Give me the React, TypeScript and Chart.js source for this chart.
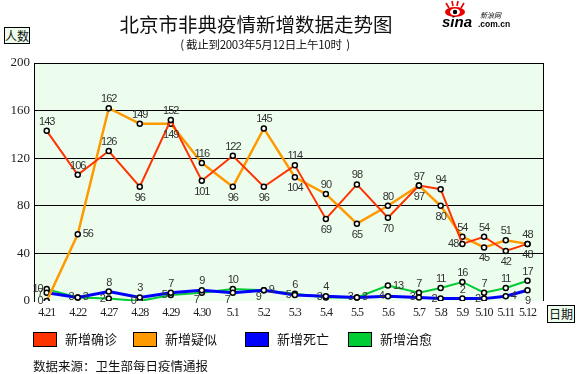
import React, { useEffect, useRef } from "react";
import { Chart, registerables } from "chart.js";

Chart.register(...registerables);

// ---- data ----
const dates = ["4.21", "4.22", "4.27", "4.28", "4.29", "4.30", "5.1", "5.2", "5.3", "5.4", "5.5", "5.6", "5.7", "5.8", "5.9", "5.10", "5.11", "5.12"];
const slots = [0, 1, 2, 3, 4, 5, 6, 7, 8, 9, 10, 11, 12, 12.7, 13.4, 14.1, 14.8, 15.5];
const confirmed = [143, 106, 126, 96, 152, 101, 122, 96, 114, 69, 98, 70, 97, 94, 48, 54, 42, 48];
const suspected = [0, 56, 162, 149, 149, 116, 96, 145, 104, 90, 65, 80, 97, 80, 54, 45, 51, 48];
const deaths = [7, 3, 8, 3, 7, 9, 7, 9, 5, 4, 3, 4, 3, 2, 2, 2, 4, 9];
const recovered = [10, 3, 2, 0, 5, 7, 10, 9, 6, 3, 3, 13, 7, 11, 16, 7, 11, 17];
const seriesNames = ["新增确诊", "新增疑似", "新增死亡", "新增治愈"];
const seriesColors = ["#ff3300", "#ff9900", "#0000ff", "#00cc33"];
const yTicks = [0, 40, 80, 120, 160, 200];

// label placement: a=above, b=below, l=left, r=right, q=lower-left
const confirmedPos = ["a", "a", "a", "b", "a", "b", "a", "b", "a", "b", "a", "b", "a", "a", "l", "a", "b", "b"];
const suspectedPos = ["l", "r", "a", "a", "b", "a", "b", "a", "b", "a", "b", "a", "b", "b", "a", "b", "a", "a"];
const deathsPos = ["l", "l", "a", "a", "a", "a", "q", "q", "l", "a", "l", "l", "l", "l", "a", "l", "r", "b"];
const recoveredPos = ["l", "r", "l", "l", "l", "q", "a", "r", "a", "l", "r", "r", "a", "a", "a", "a", "a", "a"];
const labelPos = [confirmedPos, suspectedPos, deathsPos, recoveredPos];
const seriesValues = [confirmed, suspected, deaths, recovered];
const lineWidths = [2, 2.5, 3, 2];

const decor = {
  id: "decor",
  beforeDraw(chart: any) {
    const { ctx, chartArea: a } = chart;
    ctx.save();
    ctx.fillStyle = "#edfded";
    ctx.fillRect(a.left, a.top, a.right - a.left, a.bottom - a.top);
    ctx.restore();
  },
  afterDraw(chart: any) {
    const { ctx, chartArea: a, scales } = chart;
    ctx.save();
    ctx.strokeStyle = "#000";
    ctx.lineWidth = 1;
    ctx.beginPath();
    const rx = Math.round(a.right) + 0.5;
    ctx.moveTo(rx, a.top);
    ctx.lineTo(rx, a.bottom);
    ctx.stroke();

    // x tick labels
    ctx.font = "12px 'Liberation Serif'";
    (ctx as any).letterSpacing = "-1px";
    ctx.fillStyle = "#222";
    ctx.textAlign = "center";
    ctx.textBaseline = "middle";
    dates.forEach((d, i) => {
      ctx.fillText(d, scales.x.getPixelForValue(slots[i]), a.bottom + 12);
    });

    // value labels
    ctx.font = "11px 'Liberation Sans'";
    ctx.fillStyle = "#333";
    chart.data.datasets.forEach((ds: any, di: number) => {
      const meta = chart.getDatasetMeta(di);
      meta.data.forEach((pt: any, i: number) => {
        const v = seriesValues[di][i];
        const p = labelPos[di][i];
        let x = pt.x;
        let y = pt.y;
        let align: CanvasTextAlign = "center";
        if (p === "a") y -= 9;
        else if (p === "b") y += 11;
        else if (p === "l") { x -= 4; align = "right"; }
        else if (p === "r") { x += 5; align = "left"; }
        else if (p === "q") { x -= 3; y += 7; align = "right"; }
        ctx.textAlign = align;
        ctx.fillText(String(v), x, y);
      });
    });
    ctx.restore();
  },
};

export default function App() {
  const ref = useRef<HTMLCanvasElement>(null);

  useEffect(() => {
    if (!ref.current) return;
    const chart = new Chart(ref.current, {
      type: "line",
      data: {
        datasets: seriesValues.map((vals, si) => ({
          label: seriesNames[si],
          data: vals.map((v, i) => ({ x: slots[i], y: v })),
          borderColor: seriesColors[si],
          backgroundColor: seriesColors[si],
          borderWidth: lineWidths[si],
          pointRadius: 2.5,
          pointBorderWidth: 1.5,
          pointBorderColor: "#000",
          pointBackgroundColor: "#fff",
          tension: 0,
          fill: false,
        })),
      },
      options: {
        animation: false,
        responsive: false,
        layout: { padding: { top: 63, right: 37, bottom: 53, left: 0 } },
        plugins: {
          legend: { display: false },
          tooltip: { enabled: false },
          title: { display: false },
        },
        scales: {
          x: {
            type: "linear",
            min: -0.41,
            max: 16,
            ticks: { display: false },
            grid: { display: false },
            border: { display: false },
            afterFit: (s: any) => { s.height = 20; },
          },
          y: {
            min: 0,
            max: 200,
            afterBuildTicks: (s: any) => { s.ticks = yTicks.map((v) => ({ value: v })); },
            ticks: {
              font: { family: "'Liberation Serif'", size: 13 },
              color: "#222",
              padding: 4,
            },
            grid: {
              color: (c: any) => (c.tick && c.tick.value === 0 ? "rgba(0,0,0,0)" : "#000"),
              drawTicks: false,
              lineWidth: 1,
            },
            border: { display: true, color: "#000" },
            afterFit: (s: any) => { s.width = 34; },
          },
        },
      },
      plugins: [decor],
    } as any);
    return () => chart.destroy();
  }, []);

  const cjk = "'Noto Sans CJK SC', sans-serif";
  const abs = (o: any) => ({ position: "absolute", ...o } as React.CSSProperties);

  return (
    <div style={{ position: "absolute", left: 0, top: 0, width: 580, height: 374, background: "#fff", overflow: "hidden" }}>
      <canvas ref={ref} width={580} height={374} style={{ position: "absolute", left: 0, top: 0, width: 580, height: 374 }} />
      <div style={abs({ left: 0, width: 512, top: 12, textAlign: "center", fontFamily: cjk, fontSize: 19.5, lineHeight: "24px", color: "#111" })}>
        北京市非典疫情新增数据走势图
      </div>
      <div style={abs({ left: 0, width: 530, top: 36, textAlign: "center", fontFamily: cjk, fontSize: 11.5, lineHeight: "16px", color: "#111", letterSpacing: "-0.3px", whiteSpace: "pre" })}>
        {"( 截止到2003年5月12日上午10时  )"}
      </div>
      <svg style={abs({ left: 440, top: 0 })} width={80} height={30}>
        <g stroke="#e60000" strokeWidth={1.6}>
          <line x1={9} y1={8} x2={6} y2={3} />
          <line x1={13} y1={6} x2={12} y2={1} />
          <line x1={17} y1={6} x2={18} y2={1} />
          <line x1={21} y1={8} x2={24} y2={3} />
        </g>
        <ellipse cx={15} cy={12} rx={10} ry={5} fill="#e60000" />
        <ellipse cx={15} cy={12} rx={5} ry={3.5} fill="#fff" />
        <circle cx={15} cy={12} r={2.2} fill="#000" />
        <text x={2} y={27} fontFamily="'Liberation Sans'" fontWeight="bold" fontStyle="italic" fontSize={15} fill="#000">sina</text>
        <text x={38} y={27} fontFamily="'Liberation Sans'" fontWeight="bold" fontSize={8.5} fill="#000">.com.cn</text>
        <text x={40} y={18} fontFamily={cjk} fontStyle="italic" fontSize={7} fill="#000">新浪网</text>
      </svg>
      <div style={abs({ left: 4, top: 27, width: 24, height: 15, border: "1px solid #000", background: "#edfded", fontFamily: cjk, fontSize: 12, lineHeight: "15px", textAlign: "center", color: "#111" })}>人数</div>
      <div style={abs({ left: 547, top: 305, width: 26, height: 16, border: "1px solid #000", background: "#edfded", fontFamily: cjk, fontSize: 12, lineHeight: "16px", textAlign: "center", color: "#111" })}>日期</div>
      {seriesNames.map((n, i) => {
        const bx = [33, 133, 245, 348][i];
        return (
          <React.Fragment key={n}>
            <div style={abs({ left: bx, top: 332, width: 22, height: 13, border: "1px solid #000", background: seriesColors[i] })} />
            <div style={abs({ left: bx + 32, top: 330, fontFamily: cjk, fontSize: 13, lineHeight: "18px", color: "#111", whiteSpace: "nowrap" })}>{n}</div>
          </React.Fragment>
        );
      })}
      <div style={abs({ left: 33, top: 357, fontFamily: cjk, fontSize: 12.5, lineHeight: "18px", color: "#111", whiteSpace: "nowrap" })}>数据来源：卫生部每日疫情通报</div>
    </div>
  );
}
